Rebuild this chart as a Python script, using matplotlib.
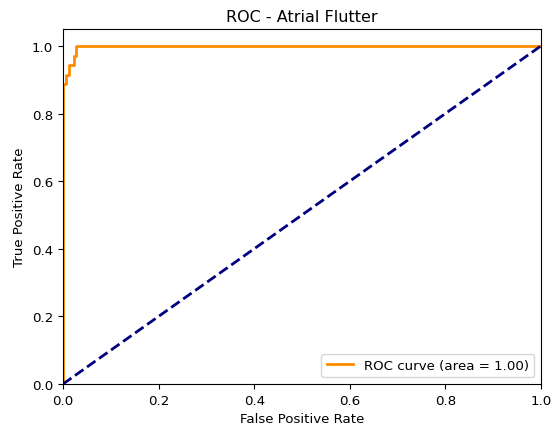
import numpy as np
import matplotlib
matplotlib.use("Agg")
import matplotlib.pyplot as plt

# ROC points
fpr = [0.0, 0.0, 0.006, 0.006, 0.012, 0.012, 0.022, 0.022, 0.027, 0.027, 1.0]
tpr = [0.0, 0.886, 0.886, 0.914, 0.914, 0.943, 0.943, 0.971, 0.971, 1.0, 1.0]
roc_auc = 1.00

chance_x = [0, 1]
chance_y = [0, 1]

fig = plt.figure(figsize=(5.51, 4.27), dpi=100)
ax = fig.add_axes([63 / 551, 42 / 427, 478 / 551, 355 / 427])

ax.plot(fpr, tpr, color='darkorange', lw=2, label='ROC curve (area = %0.2f)' % roc_auc)
ax.plot(chance_x, chance_y, color='navy', lw=2, linestyle='--')

ax.set_xlim([0.0, 1.0])
ax.set_ylim([0.0, 1.05])
ax.tick_params(labelsize=9.6)
ax.set_xlabel('False Positive Rate', fontsize=9.6)
ax.set_ylabel('True Positive Rate', fontsize=9.6)
ax.set_title('ROC - Atrial Flutter', fontsize=11.5)
ax.legend(loc='lower right', fontsize=9.6)

fig.savefig('out.png', dpi=100)
